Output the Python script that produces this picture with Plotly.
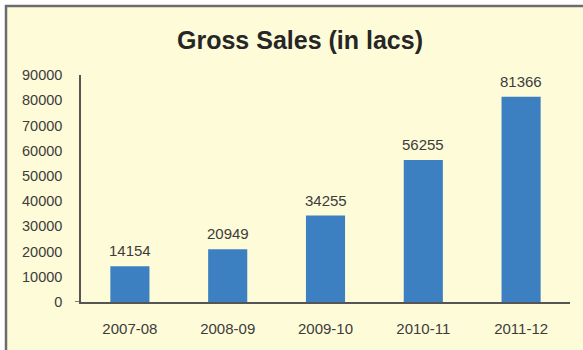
import plotly.graph_objects as go

categories = ["2007-08", "2008-09", "2009-10", "2010-11", "2011-12"]
gross_sales = [14154, 20949, 34255, 56255, 81366]
y_ticks = [0, 10000, 20000, 30000, 40000, 50000, 60000, 70000, 80000, 90000]
title_text = "Gross Sales (in lacs)"

W, H = 583, 350
L, R, T, B = 81, 13, 75, 48
pw, ph = W - L - R, H - T - B

def px_x(p):
    return (p - L) / pw

def px_y(p):
    return (H - B - p) / ph

FONT = "Liberation Sans, Arial, sans-serif"
TXT = "#3c3c3c"

fig = go.Figure()
fig.add_trace(go.Bar(
    x=categories, y=gross_sales,
    marker=dict(color="#3c80c1", line=dict(width=0)),
    hoverinfo="skip",
))

for c, v in zip(categories, gross_sales):
    fig.add_annotation(x=c, y=v, text=str(v), showarrow=False,
                       yanchor="bottom", yshift=5,
                       font=dict(family=FONT, size=15, color=TXT))

# card background with border
fig.add_shape(type="rect", xref="paper", yref="paper",
              x0=px_x(6), x1=px_x(600), y0=px_y(6), y1=px_y(370),
              line=dict(color="#6c6c6c", width=2.5),
              fillcolor="#fefbd8", layer="below")
# small tick extension at 0
fig.add_shape(type="line", xref="paper", yref="y",
              x0=px_x(75), x1=0, y0=0, y1=0,
              line=dict(color="#555555", width=1.5))

fig.update_layout(
    width=W, height=H,
    margin=dict(l=L, r=R, t=T, b=B, pad=0),
    paper_bgcolor="white",
    plot_bgcolor="rgba(0,0,0,0)",
    bargap=0.6,
    showlegend=False,
    title=dict(text="<b>" + title_text + "</b>", x=300 / W, xanchor="center",
               y=1 - 40 / H, yanchor="middle",
               font=dict(family=FONT, size=25, color="#262626")),
    xaxis=dict(type="category", showline=True, linecolor="#555555", linewidth=1.5,
               showgrid=False, zeroline=False, ticks="",
               tickfont=dict(family=FONT, size=15, color=TXT),
               ticklabelstandoff=12),
    yaxis=dict(range=[0, 90000], tickvals=y_ticks,
               ticktext=[str(t) for t in y_ticks],
               showline=True, linecolor="#555555", linewidth=1.5,
               showgrid=False, zeroline=False, ticks="",
               tickfont=dict(family=FONT, size=14.5, color=TXT),
               ticklabelstandoff=14),
)

fig.write_html("out.html")
